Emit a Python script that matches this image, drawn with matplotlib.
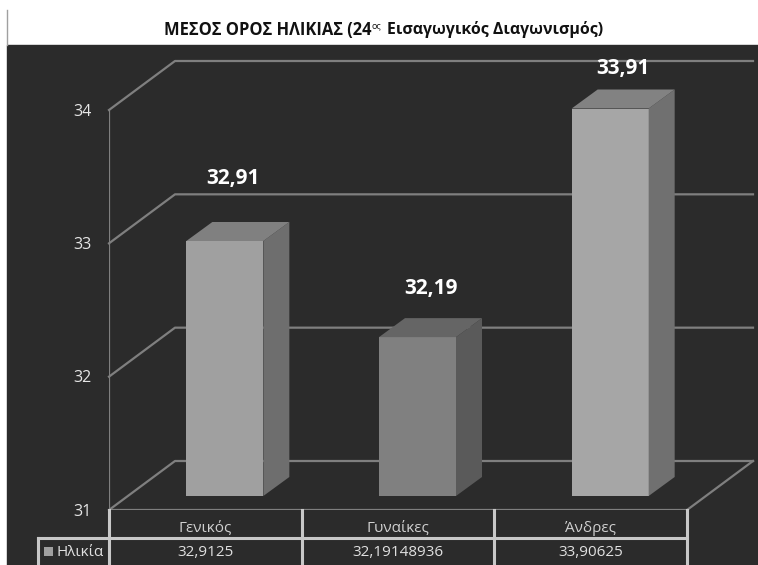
import matplotlib
matplotlib.use('Agg')
import matplotlib.pyplot as plt
from matplotlib.patches import Polygon, Rectangle

categories = ['Γενικός', 'Γυναίκες', 'Άνδρες']
values = [32.9125, 32.19148936, 33.90625]
value_labels = ['32,91', '32,19', '33,91']
table_values = ['32,9125', '32,19148936', '33,90625']
series_name = 'Ηλικία'
y_ticks = [31, 32, 33, 34]

W, H = 758, 565
left, right, y_base, y_top = 109, 687, 510, 110  # front plane in pixels
bg = '#2b2b2b'
grid_c = '#7f7f7f'
table_c = '#c8c8c8'
face_c = ['#a0a0a0', '#808080', '#a6a6a6']
side_c = ['#6e6e6e', '#5a5a5a', '#707070']
top_c = ['#808080', '#656565', '#828282']
label_up = [44, 30, 21]  # label height above the bar, px
label_right = [8.5, 13.5, 12.5]  # label shift from the bar centre, px

plt.rcParams['font.family'] = ['Open Sans', 'DejaVu Sans']

fig = plt.figure(figsize=(W / 100, H / 100), dpi=100, facecolor='white')
ax = fig.add_axes([left / W, 1 - y_base / H, (right - left) / W, (y_base - y_top) / H])
ax.set_xlim(0, 3)
ax.set_ylim(31, 34)
ax.axis('off')

# pixels -> data units
px = 3 / (right - left)
py = 3 / (y_base - y_top)

fig.patches.append(Rectangle((7 / W, 0), 1 - 7 / W, 1 - 45 / H, transform=fig.transFigure, color=bg, zorder=-5))
fig.add_artist(plt.Line2D([6.5 / W, 6.5 / W], [1 - 45 / H, 1 - 10 / H], color='#a0a0a0', lw=1))

# walls and floor
wall_x, wall_y = 66 * px, 49 * py
for t in y_ticks:
    ax.plot([0, wall_x, 3 + wall_x], [t, t + wall_y, t + wall_y], color=grid_c, lw=1.6, clip_on=False, zorder=1)
    ax.text(-17 * px, t - 1.5 * py, str(t), color='#e6e6e6', fontsize=11.5, ha='right', va='center', clip_on=False)
ax.plot([0, 0], [31, 34], color=grid_c, lw=1.6, zorder=1)
ax.plot([3, 3 + wall_x], [31, 31 + wall_y], color=grid_c, lw=1.6, clip_on=False, zorder=1)
ax.plot([0, 3], [31, 31], color=grid_c, lw=1.6, zorder=1)

# bars
bar_w = 77 * px
off_x, off_y = 19.5 * px, 14 * py
dep_x, dep_y = 26 * px, 19 * py
for i, v in enumerate(values):
    x0 = i + 0.5 + off_x - bar_w / 2
    x1 = x0 + bar_w
    y0 = 31 + off_y
    y1 = v + off_y
    ax.add_patch(Rectangle((x0, y0), bar_w, y1 - y0, color=face_c[i], lw=0, zorder=3, clip_on=False))
    ax.add_patch(Polygon([(x1, y0), (x1 + dep_x, y0 + dep_y), (x1 + dep_x, y1 + dep_y), (x1, y1)], color=side_c[i], lw=0, zorder=3, clip_on=False))
    ax.add_patch(Polygon([(x0, y1), (x0 + dep_x, y1 + dep_y), (x1 + dep_x, y1 + dep_y), (x1, y1)], color=top_c[i], lw=0, zorder=3, clip_on=False))
    ax.text(i + 0.5 + off_x + label_right[i] * px, y1 + dep_y + label_up[i] * py, value_labels[i], color='white', fontsize=15,
            fontweight='bold', ha='center', va='center', clip_on=False, zorder=5)

# title, in three pieces because of the small superscript
title_c = '#111111'
fig.text(371 / W, 1 - 30 / H, 'ΜΕΣΟΣ ΟΡΟΣ ΗΛΙΚΙΑΣ (24', fontsize=11.9, fontweight='bold', ha='right', va='center', color=title_c)
fig.text(372 / W, 1 - 26 / H, 'ος', fontsize=6.5, ha='left', va='center', color=title_c)
fig.text(387 / W, 1 - 30 / H, 'Εισαγωγικός Διαγωνισμός)', fontsize=11.4, fontweight='bold', ha='left', va='center', color=title_c)

# data table under the floor
row1 = 31 - 28 * py
row2 = 31 - 56 * py
leg_x = -71 * px
ax.plot([leg_x, 3], [row1, row1], color=table_c, lw=2.2, clip_on=False, zorder=4)
ax.plot([leg_x, leg_x], [row1, row2], color=table_c, lw=2.2, clip_on=False, zorder=4)
ax.plot([leg_x, 3], [row2, row2], color=table_c, lw=2.2, clip_on=False, zorder=4)
for k in range(4):
    ax.plot([k, k], [31, row2], color=table_c, lw=2.2, clip_on=False, zorder=4)
for i, c in enumerate(categories):
    ax.text(i + 0.5, 31 - 18 * py, c, color='#d0d0d0', fontsize=11, ha='center', va='center', clip_on=False)
    ax.text(i + 0.5, 31 - 42 * py, table_values[i], color='#e0e0e0', fontsize=11, ha='center', va='center', clip_on=False)
ax.add_patch(Rectangle((-65 * px, 31 - 46 * py), 9 * px, 9 * py, color='#a0a0a0', lw=0, clip_on=False, zorder=4))
ax.text(-53 * px, 31 - 42 * py, series_name, color='#e0e0e0', fontsize=11, ha='left', va='center', clip_on=False)

fig.savefig('out.png', dpi=100)
